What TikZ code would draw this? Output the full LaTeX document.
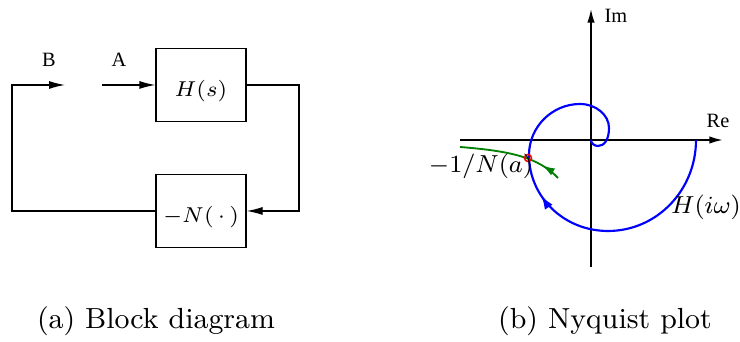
\documentclass[tikz,border=0pt]{standalone}
\usepackage{amsmath}
\usepackage{fontspec}
\newfontfamily\timesfont{Liberation Serif}
\usetikzlibrary{arrows.meta,decorations.markings}

\begin{document}
\begin{tikzpicture}[x=0.325pt,y=-0.325pt,
  blk/.style={draw, line width=0.4pt, minimum width=29.25pt, minimum height=23.7pt, inner sep=0pt, text height=7.2pt, text depth=0pt, font=\fontsize{7.2}{8}\selectfont},
  sig/.style={line width=0.4pt, -{Latex[length=5.2pt,width=2.6pt]}},
  lbl/.style={font=\timesfont\fontsize{6.6}{7}\selectfont},
  axis/.style={line width=0.6pt, -{Latex[length=4.4pt,width=2.4pt]}},
  big/.style={font=\fontsize{8.3}{9}\selectfont},
  captxt/.style={font=\fontsize{9.45}{11}\selectfont}]
\useasboundingbox (0,0) rectangle (740,342);

% block diagram
\node[blk] (H) at (201,85) {$H(s)$};
\node[blk] (N) at (201,211) {$-N(\,\cdot\,)$};
\coordinate (B) at (65,85);
\coordinate (A) at (102,85);
\node[lbl] (Blab) at (49,60) {B};
\node[lbl] (Alab) at (119,60) {A};

\draw[sig] (N.west) -| (12,85) -- (B);
\draw[sig] (A) -- (H.west);
\draw[sig] (H.east) -| (299,211) -- (N.east);

% nyquist plot
\draw[axis] (460,140) -- (723,140);
\draw[axis, line width=0.5pt] (591,267) -- (591,9);
\node[lbl] (Im) at (616,16) {Im};
\node[lbl] (Re) at (718,121) {Re};

\draw[blue, line width=0.7pt, postaction={decorate},
  decoration={markings, mark=at position 0.525 with {\arrow{Latex[length=4.4pt,width=3pt]}}}]
  (696,140) .. controls (696,190) and (657,231) .. (608,231)
  .. controls (564,231) and (529,197) .. (529,155)
  .. controls (529,127) and (552,104) .. (580,104)
  .. controls (596,104) and (609,115) .. (609,128)
  .. controls (609,140) and (604,146) .. (598,146)
  .. controls (594,146) and (591,143) .. (591,140);

\draw[green!50!black, line width=0.6pt, postaction={decorate},
  decoration={markings, mark=at position 0.19 with {\arrow{Latex[length=4pt,width=2.6pt]}}}]
  (558,178) .. controls (538,157) and (510,151) .. (460,147);

\draw[red, line width=0.5pt] (528,158) circle [radius=3.5];

\node[big] (NA) at (481,166) {$-1/N(a)$};
\node[big] (Hw) at (706,207) {$H(i\omega)$};

% captions
\node[captxt] (capa) at (156,321) {(a) Block diagram};
\node[captxt] (capb) at (605,321) {(b) Nyquist plot};
\end{tikzpicture}
\end{document}
